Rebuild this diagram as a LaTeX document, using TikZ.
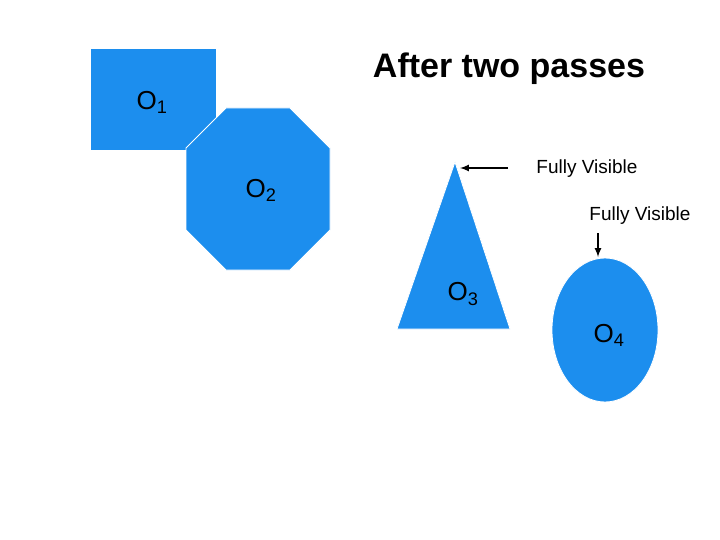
\documentclass[tikz,border=0pt]{standalone}
\usepackage{fontspec}
\usetikzlibrary{shapes.geometric}
\setmainfont{Liberation Sans}
\begin{document}
\begin{tikzpicture}[x=1pt,y=-1pt,
  shp/.style={fill=blueF,draw=white,line width=0.8pt},
  lbl/.style={font=\fontsize{26}{28}\selectfont,inner sep=0pt},
  note/.style={font=\fontsize{19}{21}\selectfont,inner sep=0pt},
  arr/.style={-latex,line width=2pt}]
\definecolor{blueF}{HTML}{1C8EEE}
\useasboundingbox (0,0) rectangle (720,540);
\fill[white] (0,0) rectangle (720,540);
\node[shp,minimum width=126pt,minimum height=102pt,inner sep=0pt] (sq) at (153.5,99) {};
\draw[shp] (186,148)--(226,108)--(290,108)--(330,148)--(330,230)--(290,270)--(226,270)--(186,230)--cycle;
\coordinate (oct) at (258,189);
\draw[shp] (455,162)--(510,329)--(397,329)--cycle;
\coordinate (tri) at (455,162);
\node[shp,ellipse,minimum width=106pt,minimum height=144pt,inner sep=0pt] (el) at (605,330) {};
\node[lbl] (o1) at (152,102) {O\textsubscript{1}};
\node[lbl] (o2) at (261,190) {O\textsubscript{2}};
\node[lbl] (o3) at (463,294) {O\textsubscript{3}};
\node[lbl] (o4) at (609,335) {O\textsubscript{4}};
\node[font=\bfseries\fontsize{34}{36}\selectfont,inner sep=0pt] (t) at (509,69) {After two passes};
\node[note] (f1) at (587,169) {Fully Visible};
\node[note] (f2) at (640,216) {Fully Visible};
\coordinate (a1s) at (508,168);
\coordinate (a1e) at (460,168);
\draw[arr] (a1s) -- (a1e);
\coordinate (a2s) at (598,233);
\coordinate (a2e) at (598,257);
\draw[arr] (a2s) -- (a2e);
\end{tikzpicture}
\end{document}
